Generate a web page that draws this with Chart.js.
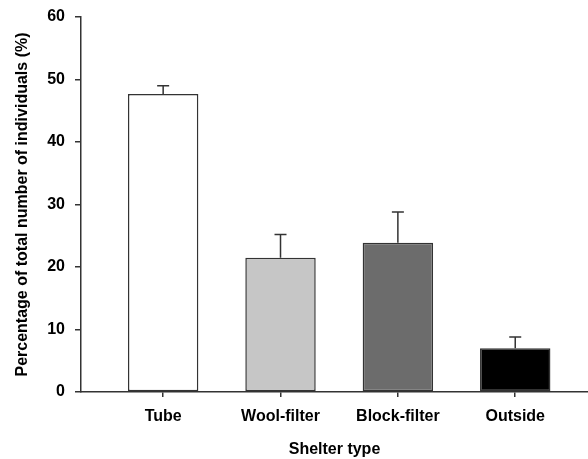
<!DOCTYPE html>
<html>
<head>
<meta charset="utf-8">
<script src="https://cdn.jsdelivr.net/npm/chart.js@4.4.1/dist/chart.umd.min.js"></script>
<style>
  html, body { margin: 0; padding: 0; background: #ffffff; }
  #wrap { width: 588px; height: 459px; }
</style>
</head>
<body>
<div id="wrap"><canvas id="c" width="588" height="459"></canvas></div>
<script>
// Shelter categories, mean percentages and their standard errors
const categories = ['Tube', 'Wool-filter', 'Block-filter', 'Outside'];
const meanPercent = [47.7, 21.5, 23.9, 7.0];
const stdError = [1.3, 3.7, 4.9, 1.8];
const yTicks = [0, 10, 20, 30, 40, 50, 60];
const barFills = ['#ffffff', '#c6c6c6', '#6c6c6c', '#000000'];

const axisColor = '#333333';
const fontFamily = '"Liberation Sans", Arial, Helvetica, sans-serif';

// Upward-only error whiskers with a short cap
const errorBars = {
  id: 'errorBars',
  afterDatasetsDraw(chart) {
    const { ctx, scales: { x, y } } = chart;
    ctx.save();
    ctx.strokeStyle = axisColor;
    ctx.lineWidth = 1.5;
    meanPercent.forEach((m, i) => {
      const px = x.getPixelForValue(i);
      const yTop = y.getPixelForValue(m);
      const yErr = y.getPixelForValue(m + stdError[i]);
      ctx.beginPath();
      ctx.moveTo(px, yTop);
      ctx.lineTo(px, yErr);
      ctx.moveTo(px - 6, yErr);
      ctx.lineTo(px + 6, yErr);
      ctx.stroke();
    });
    ctx.restore();
  }
};

new Chart(document.getElementById('c'), {
  type: 'bar',
  data: {
    datasets: [{
      data: meanPercent.map((v, i) => ({ x: i, y: v })),
      backgroundColor: barFills,
      borderColor: axisColor,
      borderWidth: 1.5,
      borderSkipped: false,
      barPercentage: 0.6,
      categoryPercentage: 1.0
    }]
  },
  options: {
    responsive: false,
    animation: false,
    layout: { padding: { top: 17, right: 0, bottom: 0, left: 0 } },
    plugins: { legend: { display: false }, tooltip: { enabled: false } },
    scales: {
      x: {
        type: 'linear',
        offset: false,
        min: -0.7,
        max: 3.62,
        afterBuildTicks(scale) {
          scale.ticks = categories.map((c, i) => ({ value: i }));
        },
        afterFit(scale) {
          scale.height = 67;
          scale.paddingLeft = 0;
          scale.paddingRight = 0;
        },
        ticks: {
          autoSkip: false,
          maxRotation: 0,
          padding: 10,
          color: '#000',
          font: { family: fontFamily, size: 16, weight: 'bold' },
          callback: (v) => categories[v]
        },
        grid: { offset: false, drawOnChartArea: false, drawTicks: true, tickLength: 5, color: axisColor, lineWidth: 1.5 },
        border: { color: axisColor, width: 1.5 },
        title: {
          display: true,
          text: 'Shelter type',
          color: '#000',
          font: { family: fontFamily, size: 16, weight: 'bold' },
          padding: { top: 0, bottom: 0 }
        }
      },
      y: {
        min: 0,
        max: 60,
        afterBuildTicks(scale) {
          scale.ticks = yTicks.map(v => ({ value: v }));
        },
        afterFit(scale) {
          scale.width = 81;
          scale.paddingTop = 0;
          scale.paddingBottom = 0;
        },
        ticks: {
          padding: 10,
          color: '#000',
          font: { family: fontFamily, size: 16, weight: 'bold' }
        },
        grid: { drawOnChartArea: false, drawTicks: true, tickLength: 6, color: axisColor, lineWidth: 1.5 },
        border: { color: axisColor, width: 1.5 },
        title: {
          display: true,
          text: 'Percentage of total number of individuals (%)',
          color: '#000',
          font: { family: fontFamily, size: 16, weight: 'bold' },
          padding: { top: 13, bottom: 0 }
        }
      }
    }
  },
  plugins: [errorBars]
});
</script>
</body>
</html>
